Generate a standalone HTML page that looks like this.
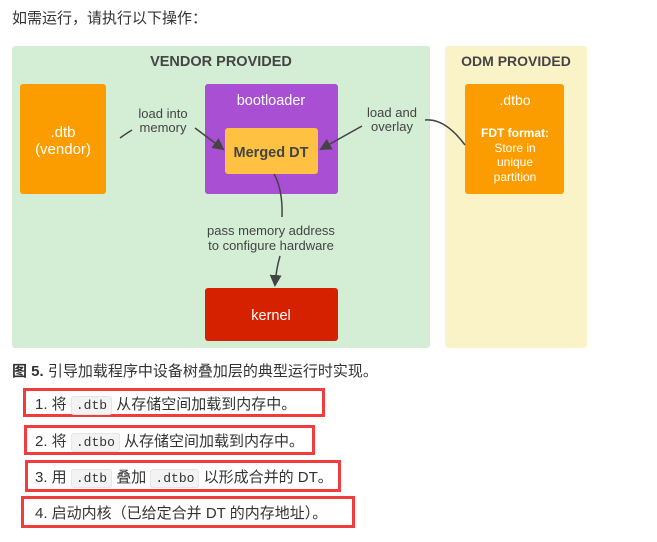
<!DOCTYPE html>
<html><head><meta charset="utf-8"><style>
body{margin:0;background:#fff;width:657px;height:542px;overflow:hidden;font-family:"Liberation Sans","Noto Sans CJK SC",sans-serif;color:#333}
.t{position:absolute;font-size:15px;white-space:nowrap}
.box{position:absolute;border:3px solid #f03c3c;box-sizing:border-box}
code{font-family:"Liberation Mono",monospace;font-size:13px;background:#f3f3f3;border:1px solid #e6e6e6;border-radius:3px;padding:1px 4px;color:#333}
</style></head><body>
<div class="t" style="left:12px;top:7px">如需运行，请执行以下操作：</div>
<svg style="position:absolute;left:0;top:0" width="657" height="360" font-family="Liberation Sans, sans-serif">
<defs><marker id="a" markerWidth="12" markerHeight="12" refX="10" refY="6" orient="auto" markerUnits="userSpaceOnUse"><path d="M0,0 L12,6 L0,12 z" fill="#444"/></marker></defs>
<rect x="12" y="46" width="418" height="302" rx="3" fill="#d4edd5"/>
<rect x="445" y="46" width="142" height="302" rx="3" fill="#fbf3c8"/>
<text x="221" y="66" text-anchor="middle" font-size="14.5" font-weight="bold" fill="#444">VENDOR PROVIDED</text>
<text x="516" y="66" text-anchor="middle" font-size="14" font-weight="bold" fill="#444">ODM PROVIDED</text>
<rect x="20" y="84" width="86" height="110" rx="3" fill="#fb9d00"/>
<text x="63" y="137" text-anchor="middle" font-size="15" fill="#fff">.dtb</text>
<text x="63" y="154" text-anchor="middle" font-size="15" fill="#fff">(vendor)</text>
<rect x="205" y="84" width="133" height="110" rx="3" fill="#a84fd3"/>
<text x="271" y="105" text-anchor="middle" font-size="14.5" fill="#fff">bootloader</text>
<rect x="225" y="128" width="93" height="46" rx="3" fill="#fec141"/>
<text x="271" y="157" text-anchor="middle" font-size="14.5" font-weight="bold" fill="#444">Merged DT</text>
<rect x="465" y="84" width="99" height="110" rx="3" fill="#fb9d00"/>
<text x="515" y="105" text-anchor="middle" font-size="14" fill="#fff">.dtbo</text>
<text x="515" y="137" text-anchor="middle" font-size="12" font-weight="bold" fill="#fff">FDT format:</text>
<text x="515" y="152" text-anchor="middle" font-size="12" fill="#fff">Store in</text>
<text x="515" y="166" text-anchor="middle" font-size="12" fill="#fff">unique</text>
<text x="515" y="181" text-anchor="middle" font-size="12" fill="#fff">partition</text>
<rect x="205" y="288" width="133" height="53" rx="3" fill="#d62100"/>
<text x="271" y="320" text-anchor="middle" font-size="14.5" fill="#fff">kernel</text>
<text x="163" y="118" text-anchor="middle" font-size="13" fill="#444">load into</text>
<text x="163" y="132" text-anchor="middle" font-size="13" fill="#444">memory</text>
<text x="392" y="117" text-anchor="middle" font-size="13" fill="#444">load and</text>
<text x="392" y="131" text-anchor="middle" font-size="13" fill="#444">overlay</text>
<text x="271" y="235" text-anchor="middle" font-size="13" fill="#444">pass memory address</text>
<text x="271" y="250" text-anchor="middle" font-size="13" fill="#444">to configure hardware</text>
<path d="M120,138 Q127,133 132,130" stroke="#444" stroke-width="1.5" fill="none"/>
<path d="M195,128 L223,149" stroke="#444" stroke-width="1.5" fill="none" marker-end="url(#a)"/>
<path d="M465,145 Q445,118 425,120" stroke="#444" stroke-width="1.5" fill="none"/>
<path d="M362,126 L321,149" stroke="#444" stroke-width="1.5" fill="none" marker-end="url(#a)"/>
<path d="M274,174 Q283,190 282,217" stroke="#444" stroke-width="1.5" fill="none"/>
<path d="M280,256 Q276,270 275,285" stroke="#444" stroke-width="1.5" fill="none" marker-end="url(#a)"/>
</svg>
<div class="t" style="left:12px;top:360px"><b>图 5.</b> 引导加载程序中设备树叠加层的典型运行时实现。</div>
<div class="box" style="left:23px;top:388px;width:302px;height:29px"></div>
<div class="box" style="left:24px;top:425px;width:291px;height:30px"></div>
<div class="box" style="left:25px;top:460px;width:316px;height:32px"></div>
<div class="box" style="left:21px;top:496px;width:334px;height:32px"></div>
<div class="t" style="left:35px;top:393px">1. 将 <code>.dtb</code> 从存储空间加载到内存中。</div>
<div class="t" style="left:35px;top:430px">2. 将 <code>.dtbo</code> 从存储空间加载到内存中。</div>
<div class="t" style="left:35px;top:466px">3. 用 <code>.dtb</code> 叠加 <code>.dtbo</code> 以形成合并的 DT。</div>
<div class="t" style="left:35px;top:502px">4. 启动内核（已给定合并 DT 的内存地址）。</div>
</body></html>
